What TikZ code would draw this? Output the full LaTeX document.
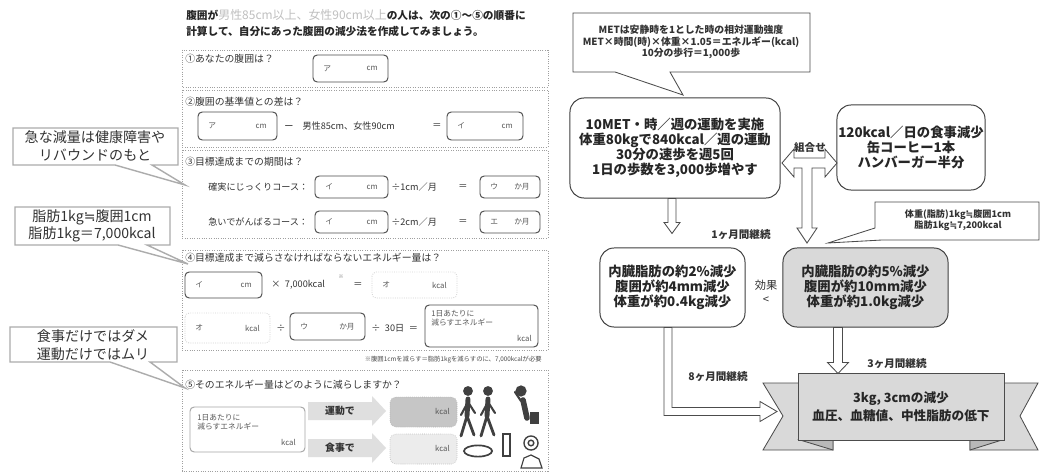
\documentclass[tikz,border=0pt]{standalone}
\usepackage{fontspec}
\setmainfont{Noto Sans CJK JP}
\newfontfamily\symfont{DejaVu Sans}
\usetikzlibrary{positioning,calc}

\newcommand{\nearly}{{\symfont ≒}}

\tikzset{
  sheetframe/.style={draw=gray!75, densely dotted, line width=0.7pt},
  ansbox/.style={draw=black!70, rounded corners=3pt, line width=0.7pt},
  faintbox/.style={draw=gray!35, densely dotted, rounded corners=3pt, line width=0.6pt},
  sheettext/.style={anchor=west, inner sep=0pt, text=black!80, font=\fontsize{6.5}{7.5}\selectfont},
  qtext/.style={anchor=west, inner sep=0pt, text=black!80, font=\fontsize{7}{8}\selectfont},
  anstext/.style={inner sep=0pt, text=black!65, font=\fontsize{5.5}{6.5}\selectfont},
  notebox/.style={draw=gray!65, line width=1pt, fill=white},
  notetext/.style={align=center, inner sep=0pt, text=black!80, font=\fontsize{10}{12.5}\selectfont},
  tipbox/.style={draw=black!70, line width=0.6pt, fill=white},
  tiptext/.style={align=center, inner sep=0pt, text=black!80, font=\bfseries\fontsize{7}{8}\selectfont},
  planbox/.style={draw=black!75, line width=0.7pt, rounded corners=10pt, align=center, inner sep=0pt,
    text=black!85, font=\bfseries\fontsize{9.5}{10.6}\selectfont},
  hollow/.style={draw=black!70, fill=white, line width=0.6pt},
  termlabel/.style={inner sep=0pt, text=black!80, font=\bfseries\fontsize{7.5}{9}\selectfont},
  ribbonpart/.style={draw=black!70, fill=gray!30, line width=0.6pt},
  figline/.style={black!75, line cap=round},
}

% answer box on the sheet: [style] name, corners, letter, unit
\newcommand{\answer}[8][ansbox]{%
  \draw[#1] (#3,#4) rectangle (#5,#6);
  \node[anstext, anchor=west] (#2-l) at (#3+10,{(#4+#6)/2}) {#7};
  \node[anstext, anchor=east] (#2-u) at (#5-10,{(#4+#6)/2}) {#8};
}

\begin{document}
\begin{tikzpicture}[x=0.025cm, y=-0.025cm]
\useasboundingbox (0,0) rectangle (1041,473);
\fill[white] (0,0) rectangle (1041,473);

% ---- worksheet ----
\node[anchor=west, inner sep=0pt, text=black!85, font=\bfseries\fontsize{7.6}{9}\selectfont] (head1) at (186,15)
  {腹囲が{\mdseries\color{gray!50}\fontsize{8.5}{9}\selectfont 男性85cm以上、女性90cm以上}の人は、次の①～⑤の順番に};
\node[anchor=west, inner sep=0pt, text=black!85, font=\bfseries\fontsize{7.6}{9}\selectfont] (head2) at (186,31)
  {計算して、自分にあった腹囲の減少法を作成してみましょう。};

% 1: waist
\draw[sheetframe] (182,50) rectangle (548,87);
\node[qtext] (q1) at (185,59) {①あなたの腹囲は？};
\answer{a1}{313}{55}{388}{82}{ア}{cm}

% 2: difference to the standard
\draw[sheetframe] (182,90) rectangle (548,147);
\node[qtext] (q2) at (185,102) {②腹囲の基準値との差は？};
\answer{a2}{198}{112}{277}{140}{ア}{cm}
\node[sheettext] (std) at (284,126) {ー\quad 男性85cm、女性90cm};
\node[sheettext] (eq2) at (432,126) {＝};
\answer{b2}{447}{112}{523}{140}{イ}{cm}

% 3: period
\draw[sheetframe] (182,150) rectangle (548,238);
\node[qtext] (q3) at (185,162) {③目標達成までの期間は？};
\foreach \ty/\course/\rate/\ans/\id in {187/確実にじっくりコース：/1/ウ/slow, 222/急いでがんばるコース：/2/エ/fast} {
  \node[sheettext] (c\id) at (208,\ty) {\course};
  \answer{p\id}{315}{\ty-11}{388}{\ty+11}{イ}{cm}
  \node[sheettext] (r\id) at (391,\ty) {÷\rate cm／月};
  \node[sheettext] (e\id) at (458,\ty) {＝};
  \answer{m\id}{480}{\ty-11}{540}{\ty+11}{\ans}{か月}
}

% 4: energy
\draw[sheetframe] (182,250) rectangle (548,350);
\node[qtext] (q4) at (185,258) {④目標達成まで減らさなければならないエネルギー量は？};
\answer{a4}{185}{272}{262}{298}{イ}{cm}
\node[sheettext] (mul) at (271,285) {×\enspace 7,000kcal};
\node[anstext, font=\fontsize{3.5}{4}\selectfont] (mark) at (341,277) {※};
\node[sheettext] (eq4) at (353,285) {＝};
\answer[faintbox]{b4}{372}{272}{457}{298}{オ}{kcal}
\answer[faintbox]{c4}{185}{313}{270}{343}{オ}{kcal}
\node[sheettext] (div1) at (276,328) {÷};
\answer{d4}{290}{313}{365}{340}{ウ}{か月}
\node[sheettext] (div2) at (371,328) {÷\enspace 30日\enspace ＝};
\draw[ansbox] (425,305) rectangle (538,347);
\node[anstext, anchor=north west, align=left] (per4) at (431,310) {1日あたりに\\減らすエネルギー};
\node[anstext, anchor=south east] (kc4) at (532,342) {kcal};
\node[anchor=east, inner sep=0pt, text=black!70, font=\fontsize{4.5}{5}\selectfont] (memo) at (542,360)
  {※腹囲1cmを減らす＝脂肪1kgを減らすのに、7,000kcalが必要};

% 5: how to reduce
\draw[sheetframe] (182,370) rectangle (548,471);
\node[qtext] (q5) at (185,385) {⑤そのエネルギー量はどのように減らしますか？};
\draw[ansbox, draw=gray!70] (190,407) rectangle (305,452);
\node[anstext, anchor=north west, align=left] (per5) at (197,414) {1日あたりに\\減らすエネルギー};
\node[anstext, anchor=south east] (kc5) at (296,446) {kcal};
\foreach \ty/\way/\tone/\id in {411/運動で/45/move, 448/食事で/15/food} {
  \fill[gray!25] (308,\ty-9) -- (372,\ty-9) -- (372,\ty-15) -- (386,\ty) -- (372,\ty+15) -- (372,\ty+9) -- (308,\ty+9) -- cycle;
  \node[inner sep=0pt, font=\bfseries\fontsize{7}{8}\selectfont, text=black!80] (w\id) at (340,\ty) {\way};
  \draw[rounded corners=4pt, fill=gray!\tone, draw=gray!60, densely dotted] (390,\ty-14) rectangle (457,\ty+16);
  \node[anstext, anchor=east] (k\id) at (450,\ty) {kcal};
}

% walkers, man on the phone, food
\foreach \px in {468,488} {
  \fill[black!75] (\px,391) circle (3.5pt);
  \draw[figline, line width=3.5pt] (\px,399) -- (\px-1,416);
  \draw[figline, line width=2pt] (\px-1,416) -- (\px-7,436) (\px-1,416) -- (\px+6,435);
  \draw[figline, line width=1.5pt] (\px,402) -- (\px-7,415) (\px,402) -- (\px+7,413);
}
\fill[black!75] (521,391) circle (4pt);
\draw[figline, line width=4pt] (523,400) -- (527,418);
\draw[figline, line width=1.5pt] (521,401) -- (515,392);
\fill[black!75] (530,412) rectangle (539,424);
\draw[black!75, line width=1.2pt] (478,451) ellipse (10pt and 4pt);
\draw[black!75, line width=0.8pt] (503,434) rectangle (510,456);
\draw[black!75, line width=1pt] (531,443) circle (5pt) (531,443) circle (2pt);
\draw[black!75, line width=0.8pt] (521,468) -- (524,458) -- (531,455) -- (539,459) -- (542,468) -- cycle;

% side notes of the sheet
\draw[notebox] (13,128) -- (178,128) -- (178,165) -- (152,165) -- (185,185) -- (115,165) -- (13,165) -- cycle;
\node[notetext] (quick) at (95,146) {急な減量は健康障害や\\リバウンドのもと};
\draw[notebox] (15,207) -- (170,207) -- (170,245) -- (147,245) -- (188,264) -- (118,245) -- (15,245) -- cycle;
\node[notetext] (fat) at (92,226) {脂肪1kg\nearly 腹囲1cm\\脂肪1kg＝7,000kcal};
\draw[notebox] (10,327) -- (177,327) -- (177,362) -- (150,362) -- (185,388) -- (110,362) -- (10,362) -- cycle;
\node[notetext] (both) at (93,345) {食事だけではダメ\\運動だけではムリ};

% ---- plan ----
\draw[tipbox] (573,13) -- (810,13) -- (810,72) -- (670,72) -- (683,95) -- (615,72) -- (573,72) -- cycle;
\node[tiptext] (met) at (691,42) {METは安静時を1とした時の相対運動強度\\MET×時間(時)×体重×1.05＝エネルギー(kcal)\\10分の歩行＝1,000歩};

\node[planbox, minimum width=5.25cm, minimum height=2.5cm] (walk) at (675,148)
  {10MET・時／週の運動を実施\\体重80kgで840kcal／週の運動\\30分の速歩を週5回\\1日の歩数を3,000歩増やす};
\node[planbox, minimum width=3.7cm, minimum height=2.125cm] (meal) at (911,147.5)
  {120kcal／日の食事減少\\缶コーヒー1本\\ハンバーガー半分};

% combined arrow
\coordinate (mix) at (782,163);
\draw[hollow] (mix) -- ++(12,-14) -- ++(0,9) -- ++(31,0) -- ++(0,-9) -- ++(12,14) -- ++(-12,14) -- ++(0,-9)
  -- ++(-13,0) -- ++(0,60) -- ++(5,0) -- ++(-10,15) -- ++(-10,-15) -- ++(5,0) -- ++(0,-60) -- ++(-8,0) -- ++(0,9) -- cycle;
\node[termlabel] (combo) at (810,148) {組合せ};
\draw[hollow] (walk.south) ++(-7,0) -- ++(0,24) -- ++(-4,0) -- ++(8,11) -- ++(8,-11) -- ++(-4,0) -- ++(0,-24) -- cycle;
\node[termlabel] (m1) at (741,235) {1ヶ月間継続};

\draw[tipbox] (875,202) -- (1039,202) -- (1039,240) -- (882,240) -- (828,243) -- (875,228) -- cycle;
\node[tiptext, font=\bfseries\fontsize{6.5}{8}\selectfont] (rate) at (958,220) {体重(脂肪)1kg\nearly 腹囲1cm\\脂肪1kg\nearly 7,200kcal};

\node[planbox, minimum width=3.625cm, minimum height=1.975cm] (walkonly) at (672.5,287.5)
  {内臓脂肪の約2\%減少\\腹囲が約4mm減少\\体重が約0.4kg減少};
\node[planbox, fill=gray!30, minimum width=4.125cm, minimum height=1.975cm] (mixed) at (865.5,287.5)
  {内臓脂肪の約5\%減少\\腹囲が約10mm減少\\体重が約1.0kg減少};
\node[termlabel, align=center, font=\fontsize{8}{10}\selectfont] (effect) at (766,292) {効果\\<};

% ribbon
\draw[ribbonpart] (800,383) -- (763,383) -- (783,416) -- (763,450) -- (833,450) -- (833,440) -- (800,440) -- cycle;
\draw[ribbonpart] (1002,383) -- (1038,383) -- (1020,416) -- (1038,450) -- (970,450) -- (970,440) -- (1002,440) -- cycle;
\draw[ribbonpart, fill=gray!55] (800,440) -- (833,440) -- (833,450) -- cycle;
\draw[ribbonpart, fill=gray!55] (1002,440) -- (970,440) -- (970,450) -- cycle;
\node[ribbonpart, minimum width=5.15cm, minimum height=1.675cm, align=center, inner sep=0pt,
  text=black!85, font=\bfseries\fontsize{9}{12.5}\selectfont] (goal) at (901,406.5)
  {3kg, 3cmの減少\\血圧、血糖値、中性脂肪の低下};

\draw[hollow] (walkonly.south) ++(-8.5,0) -- ++(0,88) -- ++(96,0) -- ++(0,6) -- ++(17,-10) -- ++(-17,-10)
  -- ++(0,6) -- ++(-88,0) -- ++(0,-80) -- cycle;
\node[termlabel] (m8) at (718,377) {8ヶ月間継続};
\draw[hollow] (mixed.south) ++(-32,0) -- ++(0,35) -- ++(-6,0) -- ++(10.5,11) -- ++(10.5,-11) -- ++(-6,0) -- ++(0,-35) -- cycle;
\node[termlabel] (m3) at (897,364) {3ヶ月間継続};
\end{tikzpicture}
\end{document}
